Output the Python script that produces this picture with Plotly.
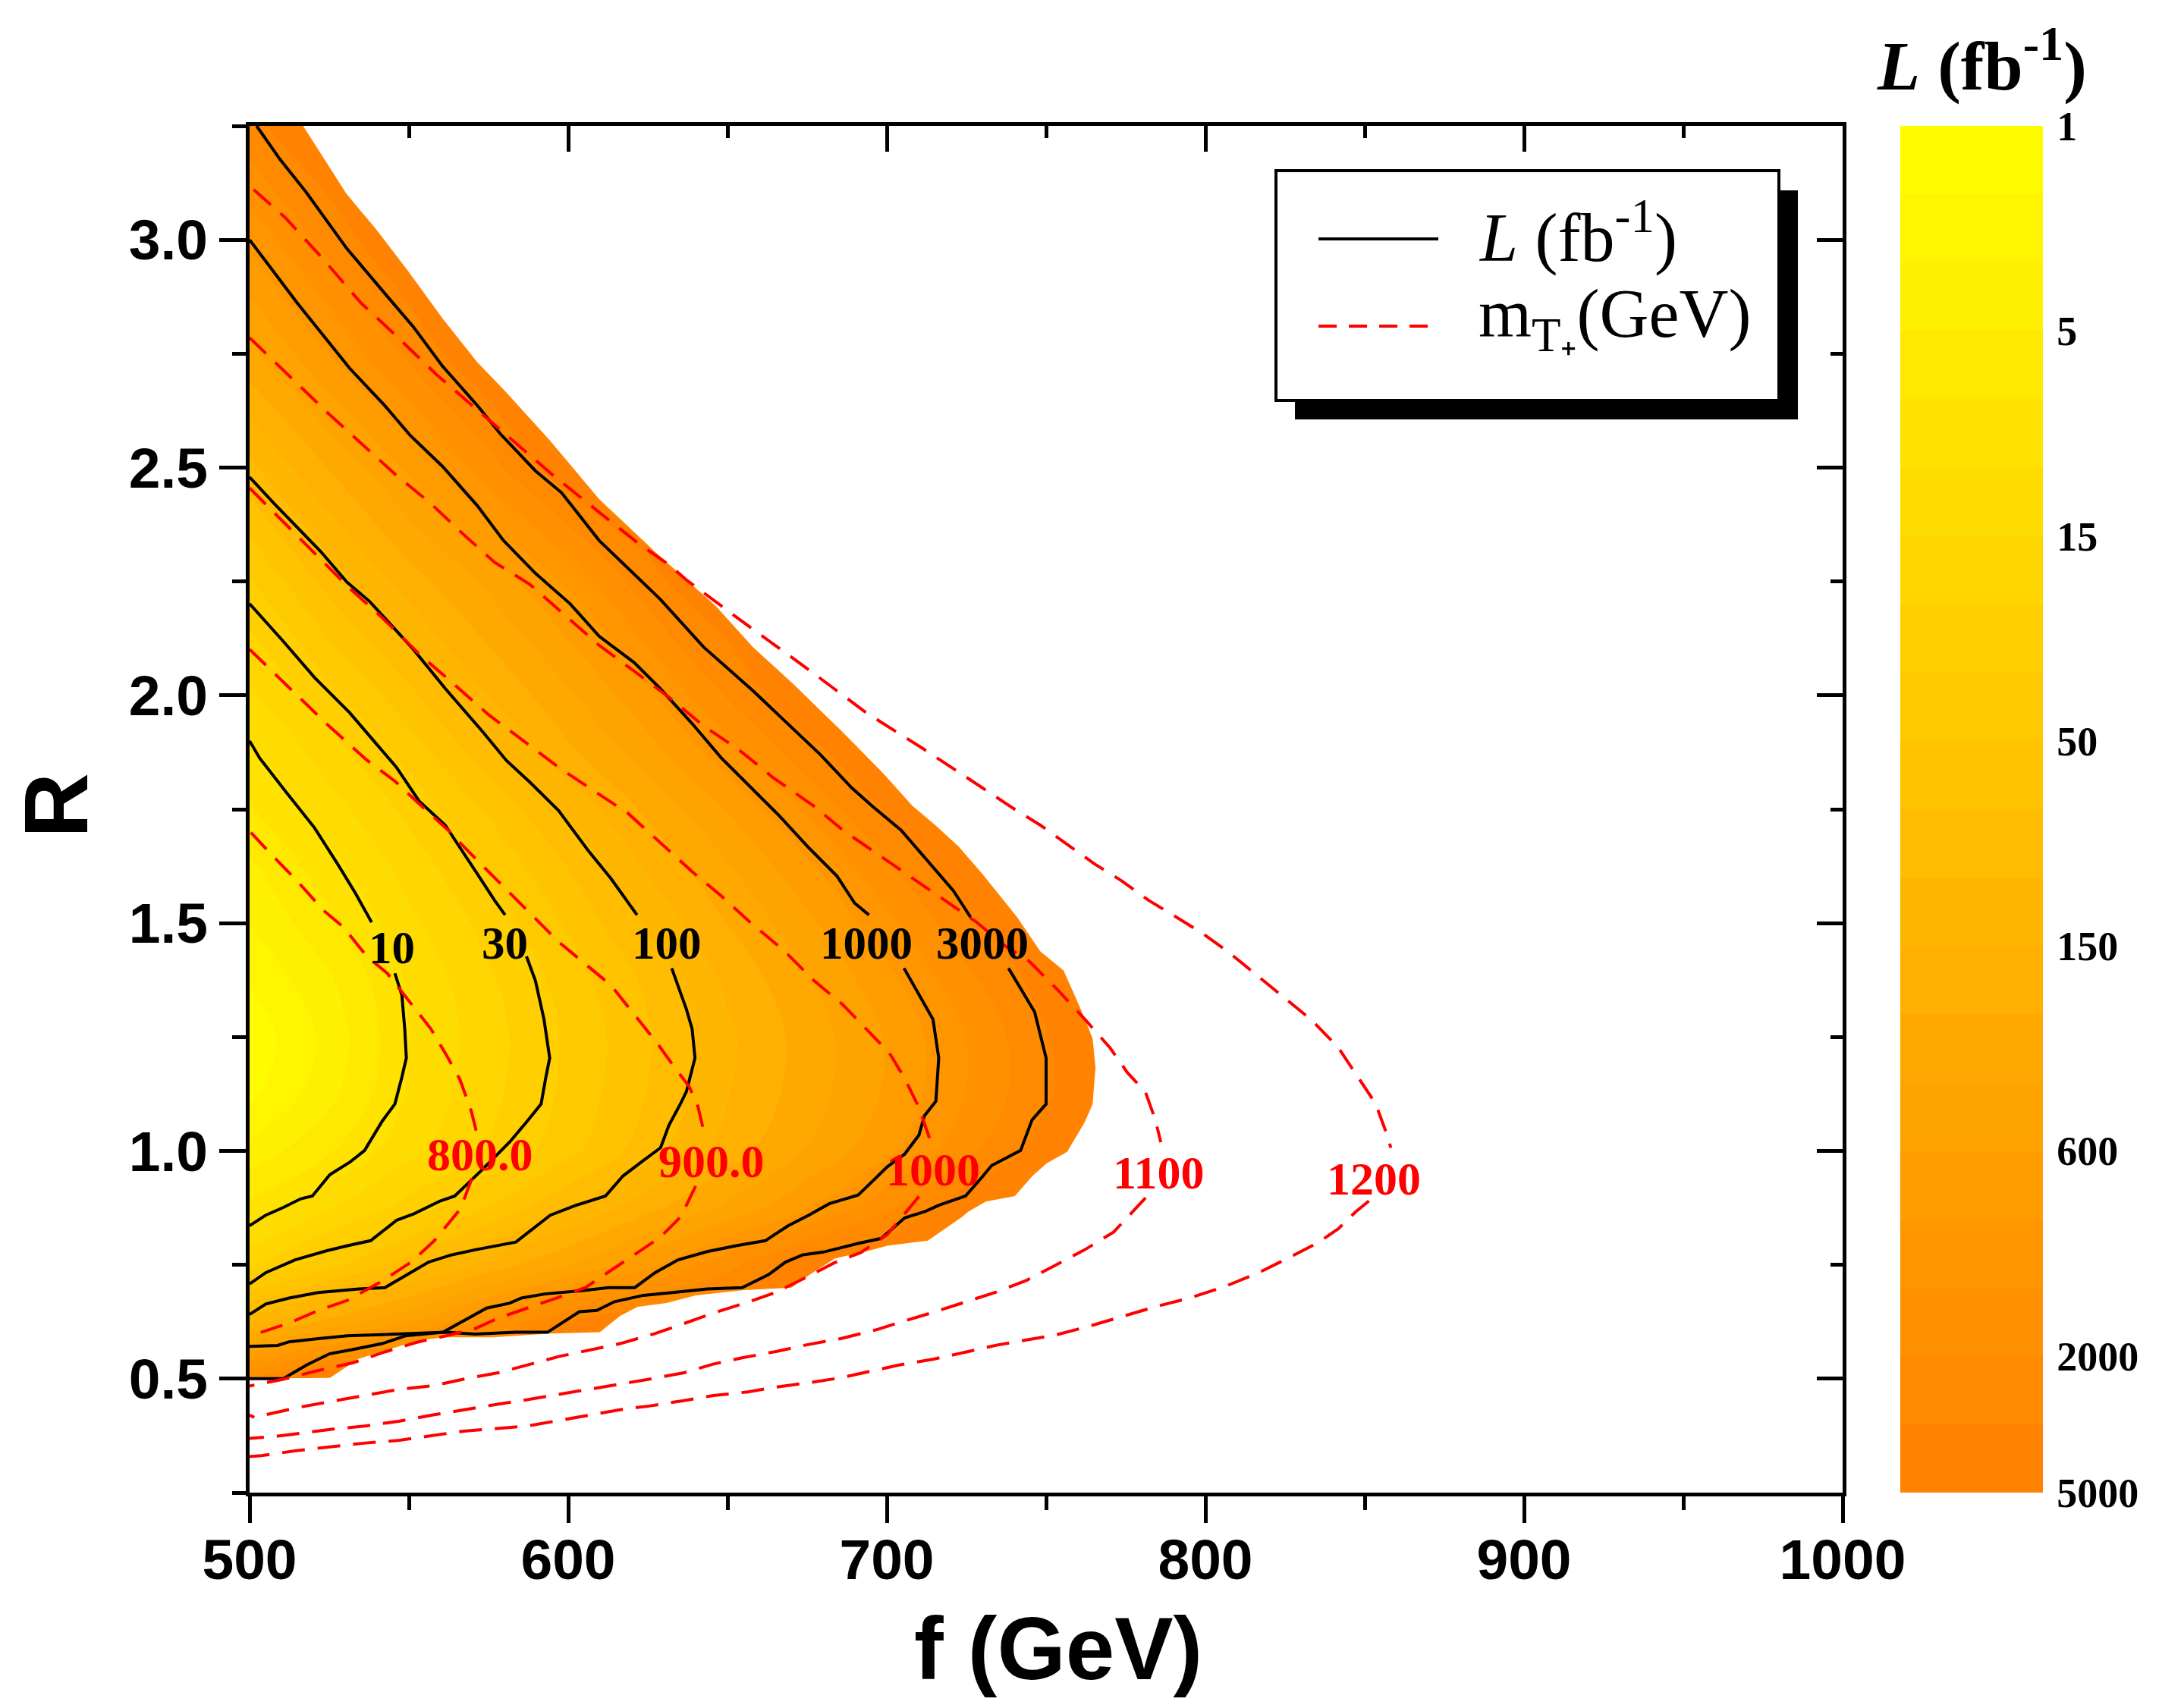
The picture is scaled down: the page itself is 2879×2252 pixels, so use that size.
import numpy as np
import plotly.graph_objects as go

# ---- luminosity field L (fb^-1) on a coarse grid ----
f_grid = [500, 525, 550, 575, 600, 625, 650, 675, 700, 725, 750, 775]
R_grid = [0.5, 0.625, 0.75, 0.875, 1.0, 1.125, 1.25, 1.375, 1.5, 1.625,
          1.75, 1.875, 2.0, 2.25, 2.5, 2.75, 3.0, 3.25]
X = 8000  # outside the reach region (hidden by the mask)
L_grid = [
    [2000, 5000, X, X, X, X, X, X, X, X, X, X],
    [130, 275, 590, 1330, 3150, X, X, X, X, X, X, X],
    [21, 43, 87, 180, 380, 800, 1750, 4100, X, X, X, X],
    [8, 14.4, 26, 51, 100, 205, 420, 870, 1870, 4500, X, X],
    [3.5, 6.9, 13.5, 23, 44, 89, 186, 390, 815, 1790, 3980, X],
    [1.5, 4.2, 10.9, 20, 37, 73, 147, 304, 635, 1360, 3000, X],
    [1.2, 3.5, 10.3, 19, 36, 69, 139, 293, 620, 1350, 3090, X],
    [1.8, 4.6, 11, 21, 40, 78, 165, 360, 790, 1790, 4000, X],
    [3, 6.6, 13.7, 26, 53, 110, 240, 535, 1190, 2800, X, X],
    [4.5, 9.1, 17.8, 35, 73, 161, 363, 820, 1880, 4500, X, X],
    [7, 12.8, 25, 53, 113, 265, 620, 1440, 3400, X, X, X],
    [9.5, 18.5, 39, 91, 215, 495, 1150, 2670, X, X, X, X],
    [14, 29, 65, 150, 350, 815, 2100, 5000, X, X, X, X],
    [32, 83, 190, 430, 970, 2760, X, X, X, X, X, X],
    [95, 245, 650, 1700, 4600, X, X, X, X, X, X, X],
    [330, 900, 2240, X, X, X, X, X, X, X, X, X],
    [1000, 2430, X, X, X, X, X, X, X, X, X, X],
    [2800, X, X, X, X, X, X, X, X, X, X, X],
]

# colour bar levels (Origin style: equal steps per label)
cb_labels = [1, 5, 15, 50, 150, 600, 2000, 5000]
cb_steps = [0, 3, 6, 9, 12, 15, 18, 20]

# outer edge of the coloured region
env_f = [516.8, 530.5, 539.6, 549.6, 560.5, 571.4, 580.6, 594.2, 609.7, 627.9,
         646.2, 658.0, 670.8, 686.2, 699.0, 708.1, 715.4, 722.7, 730.0, 740.9,
         748.2, 755.5, 760.9, 764.6, 765.5, 764.6, 762.1, 756.6, 750.2, 745.7,
         740.2, 731.1, 725.6, 723.8, 719.2, 712.9, 700.1, 695.6, 683.7, 675.5,
         670.1, 654.6, 640.0, 630.9, 621.8, 616.3, 609.9, 594.4, 576.2, 560.7,
         552.5, 541.6, 534.3, 525.2, 500.0]
env_R = [3.25, 3.10, 3.024, 2.933, 2.828, 2.732, 2.665, 2.560, 2.431, 2.311,
         2.197, 2.106, 2.024, 1.919, 1.828, 1.757, 1.714, 1.667, 1.608, 1.513,
         1.438, 1.396, 1.311, 1.247, 1.183, 1.103, 1.063, 0.998, 0.973, 0.945,
         0.901, 0.889, 0.867, 0.856, 0.834, 0.803, 0.792, 0.783, 0.764, 0.727,
         0.700, 0.694, 0.683, 0.666, 0.658, 0.638, 0.602, 0.599, 0.591, 0.591,
         0.583, 0.560, 0.544, 0.502, 0.500]

# ---- L contours (solid black) ----
f10 = [500.0, 503.1, 511.3, 520.4, 527.7, 533.2, 538.3, None, 545.6, 547.8, 548.7,
       549.2, 547.8, 545.6, 541.6, 536.1, 531.6, 525.2, 519.7, 516.1, 510.6, 505.1, 500.0]
R10 = [1.900, 1.863, 1.789, 1.709, 1.629, 1.566, 1.502, None, 1.390, 1.342, 1.268,
       1.204, 1.162, 1.103, 1.065, 1.001, 0.976, 0.948, 0.901, 0.895, 0.876, 0.859, 0.836]

f30 = [500.0, 510.4, 520.4, 531.4, 539.6, 546.0, 553.2, 561.4, 571.5, 576.9, 580.2, None,
       586.9, 589.7, 592.4, 594.2, 593.0, 591.5, 587.1, 581.7, 572.6, 568.9, 564.4, 559.8,
       551.6, 546.2, 538.0, 530.7, 524.3, 514.3, 505.1, 500.0]
R30 = [2.201, 2.120, 2.039, 1.962, 1.895, 1.843, 1.768, 1.715, 1.608, 1.550, 1.518, None,
       1.427, 1.374, 1.289, 1.204, 1.162, 1.103, 1.065, 1.020, 0.956, 0.931, 0.901, 0.890,
       0.862, 0.848, 0.803, 0.792, 0.781, 0.761, 0.733, 0.708]

f100 = [500.0, 507.7, 522.3, 530.5, 537.7, 551.4, 561.4, 573.3, 580.6, 587.9, 597.0, 606.1,
        613.4, 621.6, None, 632.5, 637.1, 638.9, 639.8, 637.1, 635.2, 631.6, 629.0, 623.6,
        617.2, 611.7, 602.6, 594.4, 583.6, 570.8, 563.5, 556.2, 548.9, 542.5, 534.3, 521.5,
        512.4, 505.1, 500.0]
R100 = [2.479, 2.421, 2.316, 2.249, 2.206, 2.101, 2.015, 1.919, 1.857, 1.810, 1.747, 1.661,
        1.598, 1.518, None, 1.401, 1.311, 1.268, 1.204, 1.130, 1.103, 1.056, 1.007, 0.979,
        0.945, 0.901, 0.881, 0.859, 0.800, 0.783, 0.772, 0.756, 0.727, 0.700, 0.697, 0.689,
        0.677, 0.664, 0.641]

f1000 = [500.0, 515.0, 531.4, 542.3, 550.5, 560.5, 571.4, 579.7, 589.7, 600.6, 609.7, 620.7,
         628.9, 638.9, 648.0, 657.1, 666.2, 675.3, 684.4, 689.9, 694.4, None, 705.4, 710.9,
         714.5, 716.3, 715.4, 711.8, 710.1, 705.6, 700.1, 695.6, 691.0, 681.9, 675.5, 669.1,
         661.9, 652.7, 643.6, 634.5, 627.3, 620.9, 612.7, 605.4, 592.6, 585.3, 581.7, 574.4,
         567.1, 560.7, 548.9, 541.6, 531.6, 525.2, 517.9, 510.6, 500.0]
R1000 = [3.0, 2.861, 2.718, 2.637, 2.570, 2.503, 2.417, 2.340, 2.268, 2.201, 2.130, 2.072,
         2.015, 1.938, 1.863, 1.800, 1.736, 1.667, 1.603, 1.544, 1.518, None, 1.401, 1.332,
         1.289, 1.204, 1.109, 1.077, 1.035, 0.993, 0.965, 0.934, 0.903, 0.884, 0.859, 0.836,
         0.803, 0.792, 0.779, 0.761, 0.733, 0.700, 0.700, 0.694, 0.686, 0.677, 0.666, 0.655,
         0.627, 0.602, 0.594, 0.577, 0.563, 0.555, 0.530, 0.500, 0.500]

f3000 = [502.2, 509.5, 517.7, 530.5, 543.2, 551.4, 560.5, 571.4, 578.7, 589.7, 597.9, 609.7,
         628.9, 642.5, 658.0, 669.8, 679.0, 689.0, 695.4, 704.5, 713.6, 720.9, 726.3, None,
         738.2, 746.4, 750.0, 750.0, 745.6, 742.0, 732.9, 730.2, 724.7, 716.5, 712.0, 705.6,
         698.3, 691.0, 680.1, 673.7, 668.2, 662.8, 654.6, 643.6, 632.7, 623.6, 614.5, 609.0,
         603.5, 597.2, 593.5, 583.5, 570.8, 561.6, 548.9, 530.7, 521.5, 512.4, 508.8, 500.0]
R3000 = [3.25, 3.177, 3.105, 2.981, 2.876, 2.809, 2.723, 2.637, 2.574, 2.493, 2.445, 2.340,
         2.211, 2.106, 2.010, 1.933, 1.871, 1.797, 1.757, 1.704, 1.630, 1.571, 1.513, None,
         1.401, 1.305, 1.204, 1.103, 1.068, 1.001, 0.968, 0.945, 0.901, 0.881, 0.867, 0.853,
         0.808, 0.797, 0.778, 0.772, 0.756, 0.728, 0.700, 0.697, 0.689, 0.683, 0.669, 0.650,
         0.647, 0.619, 0.602, 0.602, 0.598, 0.602, 0.599, 0.594, 0.588, 0.581, 0.573, 0.571]

# ---- m_T+ contours (dashed red) ----
f800 = [500.4, 506.8, 515.0, 523.2, 529.5, 536.8, 543.2, 549.6, 556.9, 562.3, 566.0, 569.6,
        571.5, None, 569.8, 566.2, 558.0, 550.7, 541.6, 530.7, 521.6, 512.4, 502.4, 500.0]
R800 = [1.699, 1.651, 1.592, 1.528, 1.491, 1.427, 1.390, 1.332, 1.268, 1.204, 1.157, 1.087,
        1.034, None, 0.940, 0.873, 0.803, 0.756, 0.714, 0.672, 0.650, 0.622, 0.599, 0.590]

f900 = [500.0, 511.3, 524.1, 536.8, 545.9, 553.2, 562.3, 569.6, 578.7, 587.9, 597.0, 606.1,
        613.4, 620.7, 628.0, 633.4, 638.0, 640.7, 642.5, None, 640.0, 635.4, 629.0, 621.8,
        612.7, 605.4, 596.3, 587.2, 578.0, 570.8, 561.6, 552.5, 541.6, 532.5, 521.6, 510.6,
        501.5, 500.0]
R900 = [2.101, 2.024, 1.938, 1.858, 1.810, 1.762, 1.704, 1.651, 1.587, 1.523, 1.459, 1.406,
        1.364, 1.300, 1.236, 1.183, 1.141, 1.098, 1.045, None, 0.923, 0.856, 0.811, 0.777,
        0.733, 0.700, 0.677, 0.655, 0.633, 0.610, 0.594, 0.580, 0.557, 0.535, 0.518, 0.499,
        0.485, 0.484]

f1000m = [500.0, 509.5, 520.4, 531.4, 541.4, 553.2, 564.2, 575.1, 586.0, 597.0, 606.0, 618.8,
          627.9, 638.9, 648.0, 657.1, 668.0, 677.1, 686.2, 693.5, 700.8, 705.4, 709.9, 713.6,
          None, 710.1, 700.1, 691.9, 683.7, 674.6, 664.6, 655.5, 645.5, 636.3, 627.2, 616.3,
          607.2, 597.2, 587.1, 578.0, 567.1, 558.0, 547.1, 536.1, 527.0, 516.1, 507.0, 501.5,
          500.0]
R1000m = [2.455, 2.388, 2.311, 2.235, 2.172, 2.091, 2.024, 1.957, 1.900, 1.842, 1.800, 1.741,
          1.683, 1.613, 1.560, 1.502, 1.438, 1.374, 1.321, 1.268, 1.215, 1.162, 1.098, 1.024,
          None, 0.900, 0.816, 0.777, 0.755, 0.722, 0.688, 0.666, 0.644, 0.621, 0.599, 0.577,
          0.563, 0.549, 0.530, 0.513, 0.499, 0.485, 0.477, 0.463, 0.452, 0.438, 0.424, 0.415,
          0.420]

f1100 = [500.0, 507.7, 515.0, 525.0, 536.8, 545.9, 556.9, 567.8, 576.9, 587.9, 598.8, 609.7,
         620.7, 631.6, 642.5, 653.5, 664.4, 677.1, 686.2, 697.2, 708.1, 717.2, 728.2, 737.3,
         744.6, 753.7, 762.8, 770.1, 775.5, 781.2, 784.3, 786.0, None, 781.2, 771.2, 762.1,
         753.0, 743.9, 734.7, 723.8, 714.7, 705.6, 696.5, 685.5, 674.6, 665.5, 654.6, 645.5,
         636.3, 625.4, 616.3, 607.2, 597.2, 587.1, 577.1, 567.1, 558.0, 547.1, 536.1, 527.0,
         517.9, 508.8, 500.0]
R1100 = [2.785, 2.732, 2.684, 2.617, 2.541, 2.484, 2.421, 2.349, 2.292, 2.244, 2.177, 2.110,
         2.053, 1.996, 1.933, 1.881, 1.819, 1.757, 1.704, 1.651, 1.598, 1.555, 1.502, 1.449,
         1.417, 1.353, 1.284, 1.226, 1.172, 1.129, 1.068, 1.019, None, 0.897, 0.822, 0.783,
         0.749, 0.716, 0.691, 0.666, 0.646, 0.627, 0.607, 0.588, 0.574, 0.560, 0.546, 0.532,
         0.513, 0.499, 0.488, 0.477, 0.465, 0.454, 0.443, 0.432, 0.421, 0.407, 0.396, 0.390,
         0.382, 0.374, 0.369]

f1200 = [501.3, 511.3, 523.2, 535.0, 545.9, 558.7, 571.4, 584.2, 595.1, 609.7, 622.5, 631.6,
         637.0, 653.5, 677.1, 693.5, 711.8, 730.0, 739.7, 748.2, 756.7, 765.2, 773.7, 782.2,
         790.7, 799.2, 807.7, 816.2, 824.7, 833.2, 841.7, 848.1, 853.4, 856.6, 858.2, None,
         851.3, 847.1, 841.7, 835.4, 826.9, 816.2, 805.6, 795.0, 784.3, 773.0, 763.9, 753.0,
         743.9, 734.7, 723.8, 714.7, 703.8, 694.7, 685.5, 675.5, 665.5, 656.4, 645.5, 636.3,
         625.4, 616.3, 607.2, 596.3, 587.1, 576.2, 567.1, 556.2, 547.1, 535.1, 525.6, 514.6,
         503.7, 500.0]
R1200 = [3.110, 3.048, 2.957, 2.861, 2.790, 2.704, 2.627, 2.550, 2.484, 2.402, 2.331, 2.287,
         2.254, 2.168, 2.048, 1.962, 1.881, 1.797, 1.752, 1.715, 1.673, 1.630, 1.593, 1.550,
         1.514, 1.477, 1.434, 1.386, 1.337, 1.288, 1.227, 1.159, 1.104, 1.043, 1.007, None,
         0.890, 0.866, 0.829, 0.799, 0.768, 0.731, 0.701, 0.677, 0.658, 0.635, 0.616, 0.596,
         0.585, 0.574, 0.557, 0.543, 0.530, 0.516, 0.502, 0.491, 0.482, 0.471, 0.463, 0.452,
         0.440, 0.432, 0.421, 0.407, 0.396, 0.390, 0.385, 0.374, 0.365, 0.358, 0.350, 0.342,
         0.331, 0.329]

# contour labels: (text, f, R)
L_labels = [("10", 544.7, 1.446), ("30", 580.0, 1.456), ("100", 631.0, 1.456),
            ("1000", 693.5, 1.456), ("3000", 730.0, 1.456)]
m_labels = [("800.0", 572.4, 0.992), ("900.0", 644.9, 0.978), ("1000", 714.5, 0.960),
            ("1100", 785.4, 0.952), ("1200", 852.9, 0.939)]

# ---------------------------------------------------------------------------
step = np.interp(np.log10(np.array(L_grid, dtype=float)), np.log10(cb_labels), cb_steps)
z = -step  # negative so that "1" sits at the top of the colour bar

SERIF = "Liberation Serif"
SANS = "Liberation Sans"

fig = go.Figure()

fig.add_trace(go.Contour(
    x=f_grid, y=R_grid, z=z,
    zmin=-20, zmax=0, autocontour=False,
    contours=dict(start=-20, end=0, size=1, coloring="fill", showlines=False),
    line=dict(width=0),
    colorscale=[[0, "rgb(255,128,0)"], [1, "rgb(255,255,0)"]],
    colorbar=dict(
        x=1.0362, xanchor="left", xpad=0, y=1, yanchor="top", ypad=0,
        len=1, lenmode="fraction", thickness=188, thicknessmode="pixels",
        outlinewidth=0, ticks="outside", ticklen=8, tickcolor="rgba(0,0,0,0)",
        tickvals=[-s for s in cb_steps], ticktext=[str(v) for v in cb_labels],
        tickfont=dict(family=SERIF, size=54, color="black", weight="bold"),
    ),
    hoverinfo="skip",
))

# white mask outside the reach region
mask_f = [env_f[0]] + env_f + [490, 490, 1010, 1010]
mask_R = [3.4] + env_R + [0.5, 0.2, 0.2, 3.4]
fig.add_trace(go.Scatter(x=mask_f, y=mask_R, mode="lines", fill="toself",
                         fillcolor="white", line=dict(width=0, color="white"),
                         showlegend=False, hoverinfo="skip"))

for fx, ry in [(f10, R10), (f30, R30), (f100, R100), (f1000, R1000), (f3000, R3000)]:
    fig.add_trace(go.Scatter(x=fx, y=ry, mode="lines", line=dict(color="black", width=4),
                             showlegend=False, hoverinfo="skip"))

for fx, ry in [(f800, R800), (f900, R900), (f1000m, R1000m), (f1100, R1100), (f1200, R1200)]:
    fig.add_trace(go.Scatter(x=fx, y=ry, mode="lines",
                             line=dict(color="#ff0000", width=4, dash="30px,17px"),
                             showlegend=False, hoverinfo="skip"))

# mirror axes (top / right with inward ticks)
fig.add_trace(go.Scatter(x=[None], y=[None], xaxis="x2", yaxis="y2",
                         showlegend=False, hoverinfo="skip"))

annotations = []
for txt, fx, ry in L_labels:
    annotations.append(dict(x=fx, y=ry, xref="x", yref="y", text=txt, showarrow=False,
                            xanchor="center", yanchor="middle",
                            font=dict(family=SERIF, size=61, color="black", weight="bold")))
for txt, fx, ry in m_labels:
    annotations.append(dict(x=fx, y=ry, xref="x", yref="y", text=txt, showarrow=False,
                            xanchor="center", yanchor="middle",
                            font=dict(family=SERIF, size=62, color="#ff0000", weight="bold")))

# axis titles
annotations.append(dict(x=0.5076, y=-0.1145, xref="paper", yref="paper", text="f (GeV)",
                        xanchor="center", yanchor="middle", showarrow=False,
                        font=dict(family=SANS, size=116, color="black", weight="bold")))
annotations.append(dict(x=-0.1214, y=0.5028, xref="paper", yref="paper", text="R", textangle=-90,
                        xanchor="center", yanchor="middle", showarrow=False,
                        font=dict(family=SANS, size=119, color="black", weight="bold")))
# colour bar title
annotations.append(dict(x=1.0876, y=1.0477, xref="paper", yref="paper",
                        text="<i>L</i> (fb<sup>-1</sup>)", showarrow=False,
                        xanchor="center", yanchor="middle",
                        font=dict(family=SERIF, size=92, color="black", weight="bold")))
# legend text
annotations.append(dict(x=0.7705, y=0.9218, xref="paper", yref="paper", xanchor="left",
                        yanchor="middle", text="<i>L</i> (fb<sup>-1</sup>)", showarrow=False,
                        font=dict(family=SERIF, size=90, color="black")))
annotations.append(dict(x=0.7705, y=0.859, xref="paper", yref="paper", xanchor="left",
                        yanchor="middle", text="m<sub>T\u208a</sub>(GeV)", showarrow=False,
                        font=dict(family=SERIF, size=90, color="black")))

shapes = [
    dict(type="rect", xref="paper", yref="paper", x0=0.6562, x1=0.9719, y0=0.7852, y1=0.9528,
         fillcolor="black", line=dict(width=0)),
    dict(type="rect", xref="paper", yref="paper", x0=0.6443, x1=0.9600, y0=0.7991, y1=0.9673,
         fillcolor="white", line=dict(color="black", width=4)),
    dict(type="line", xref="paper", yref="paper", x0=0.6710, x1=0.7462, y0=0.9173, y1=0.9173,
         line=dict(color="black", width=4)),
    dict(type="line", xref="paper", yref="paper", x0=0.6710, x1=0.7462, y0=0.8535, y1=0.8535,
         line=dict(color="#ff0000", width=4, dash="24px,16px")),
]

axis_common = dict(showgrid=False, zeroline=False, showline=True, linecolor="black",
                   linewidth=5, tickcolor="black", tickwidth=5)

# the page body keeps its 8px default margin, so the figure is 16px smaller
fig.update_layout(
    width=2863, height=2236,
    margin=dict(l=321, r=442, t=158, b=276),
    paper_bgcolor="white", plot_bgcolor="white",
    showlegend=False,
    xaxis=dict(range=[500, 1000], tickvals=[500, 600, 700, 800, 900, 1000],
               ticks="outside", ticklen=35, ticklabelstandoff=-16,
               minor=dict(dtick=50, tick0=500, ticks="outside", ticklen=18,
                          tickwidth=5, tickcolor="black"),
               tickfont=dict(family=SANS, size=75, color="black", weight="bold"),
               **axis_common),
    yaxis=dict(range=[0.25, 3.25], tickvals=[0.5, 1.0, 1.5, 2.0, 2.5, 3.0],
               ticktext=["0.5", "1.0", "1.5", "2.0", "2.5", "3.0"],
               ticks="outside", ticklen=35,
               minor=dict(dtick=0.25, tick0=0.25, ticks="outside", ticklen=18,
                          tickwidth=5, tickcolor="black"),
               tickfont=dict(family=SANS, size=75, color="black", weight="bold"),
               **axis_common),
    xaxis2=dict(range=[500, 1000], overlaying="x", side="top", anchor="y2",
                tickvals=[500, 600, 700, 800, 900, 1000], showticklabels=False,
                ticks="inside", ticklen=34,
                minor=dict(dtick=50, tick0=500, ticks="inside", ticklen=16,
                           tickwidth=5, tickcolor="black"),
                **axis_common),
    yaxis2=dict(range=[0.25, 3.25], overlaying="y", side="right", anchor="x2",
                tickvals=[0.5, 1.0, 1.5, 2.0, 2.5, 3.0], showticklabels=False,
                ticks="inside", ticklen=34,
                minor=dict(dtick=0.25, tick0=0.25, ticks="inside", ticklen=16,
                           tickwidth=5, tickcolor="black"),
                **axis_common),
    annotations=annotations,
    shapes=shapes,
)

fig.write_html("out.html")
